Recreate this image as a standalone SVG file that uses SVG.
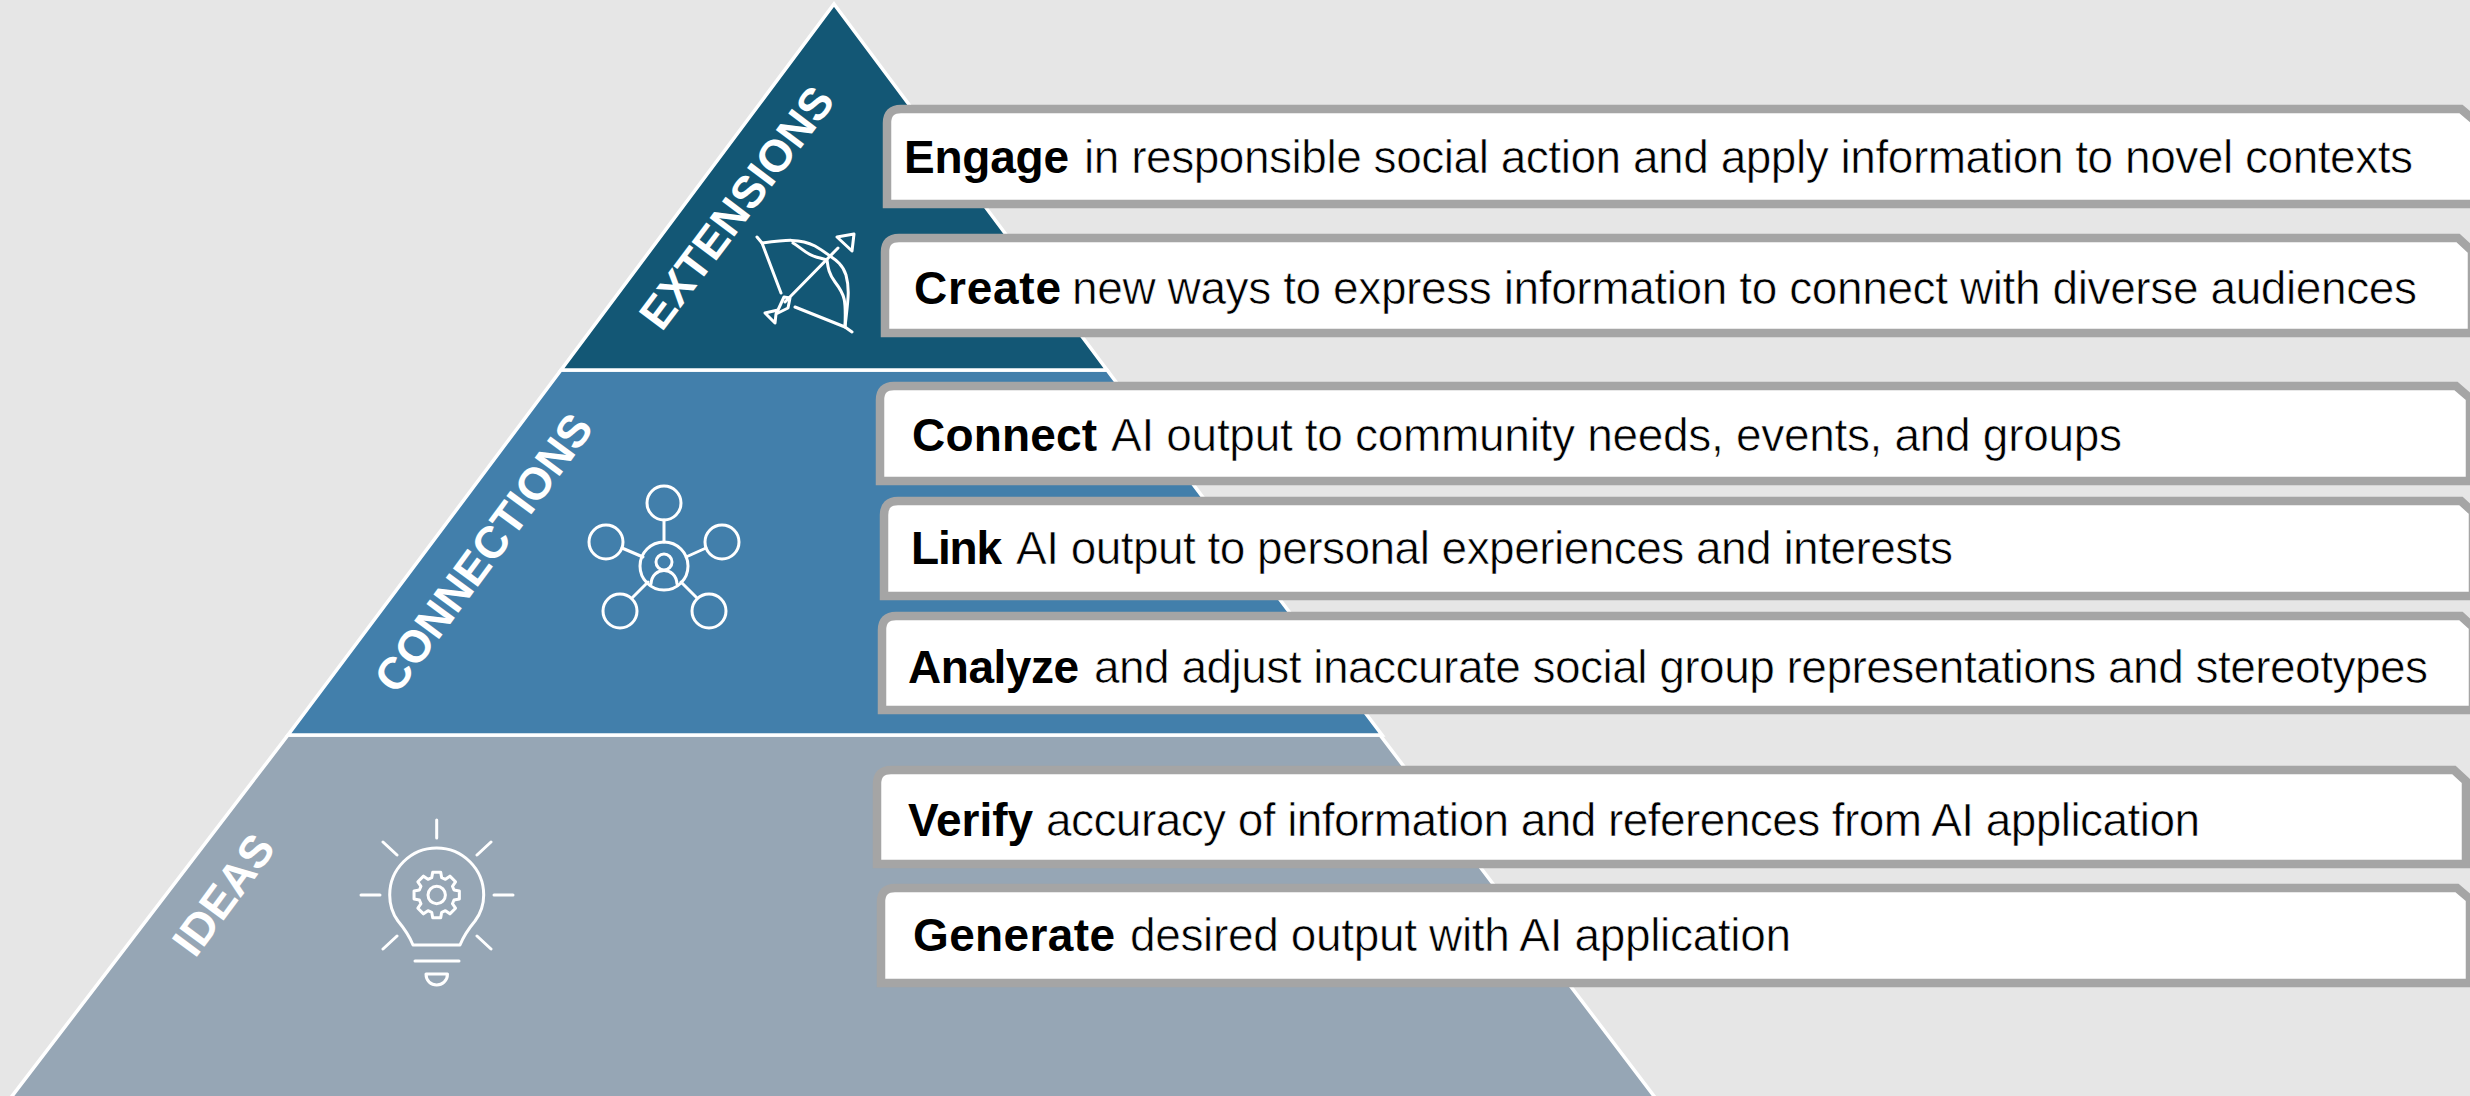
<svg xmlns="http://www.w3.org/2000/svg" width="2470" height="1096" viewBox="0 0 2470 1096">
<style>
.tier{stroke:#fff;stroke-width:3.5;stroke-linejoin:miter}
.box{fill:#fff;stroke:#a5a5a5;stroke-width:8.5;stroke-linejoin:miter}
.t{font-family:"Liberation Sans",Arial,Helvetica,sans-serif;font-size:46px;fill:#000}
.b{font-weight:700}
.r{stroke:#fff;stroke-width:.6}
.lab{font-family:"Liberation Sans",Arial,Helvetica,sans-serif;font-size:45px;font-weight:700;fill:#fff;text-anchor:middle}
.ic{fill:none;stroke:#fff;stroke-width:3;stroke-linecap:round;stroke-linejoin:round}
</style>
<rect width="2470" height="1096" fill="#e6e6e6"/>
<g id="tier-ideas"><polygon class="tier" fill="#96a6b5" points="288,735 1380,735 1660,1104 6,1104"/>
<text class="lab" transform="translate(236,904) rotate(-53.500)">IDEAS</text>
<g id="icon-bulb" class="ic">
<path d="M413 945 C409 935 403 927 398 921 C392 913 389.700 905 389.700 895 A47 47 0 0 1 483.700 895 C483.700 905 481 913 475 921 C470 927 464 935 460 945 Z"/>
<path d="M436.700 820V838M494 895H513M361 895H380M383 842L397 855M477 855L491 842M383 949L397 936M477 936L491 949M415 961H459"/>
<path d="M426 974H447.500C447.500 981 442 985 436.700 985C431 985 426 981 426 974Z"/>
<g transform="translate(436.700,895)"><polygon points="17.300,-5 22.650,-4 22.650,4 17.300,5 15.740,8.730 18.840,13.190 13.190,18.840 8.730,15.740 5,17.300 4,22.650 -4,22.650 -5,17.300 -8.730,15.740 -13.190,18.840 -18.840,13.190 -15.740,8.730 -17.300,5 -22.650,4 -22.650,-4 -17.300,-5 -15.740,-8.730 -18.840,-13.190 -13.190,-18.840 -8.730,-15.740 -5,-17.300 -4,-22.650 4,-22.650 5,-17.300 8.730,-15.740 13.190,-18.840 18.840,-13.190 15.740,-8.730"/><circle r="8.700"/></g>
</g></g>
<g id="tier-connections"><polygon class="tier" fill="#427fab" points="561,370 1107,370 1382,735 288,735"/>
<text class="lab" transform="translate(496,562) rotate(-53.500)">CONNECTIONS</text>
<g id="icon-network" class="ic">
<circle cx="664" cy="566" r="24"/><circle cx="664" cy="503" r="17"/><circle cx="606" cy="542" r="17"/><circle cx="722" cy="542" r="17"/><circle cx="620" cy="611" r="17"/><circle cx="709" cy="611" r="17"/>
<circle cx="664" cy="562" r="8"/><path d="M651 584C652 566 676 566 677 584"/>
<path d="M664 520V542M622 548L643 557M706 548L686 557M632 598L648 582M697 598L681 582"/>
</g></g>
<g id="tier-extensions"><polygon class="tier" fill="#135775" points="834,4 1107,370 561,370"/>
<text class="lab" transform="translate(749,217) rotate(-53)">EXTENSIONS</text>
<g id="icon-bow" class="ic" stroke-width="2.500">
<path d="M757 237L762 243C785 240 800 238 815 246C822 250 826 253 830 256C836 260 843 265 846 275C850 290 848 300 845 327L852 332"/>
<path d="M793 243C802 248 807 256 820 258L827 260C828 268 829 274 835 282C845 295 846 300 845 326"/>
<path d="M762 243L781 293M795 307L845 327"/>
<path d="M785 302L838 248M837 237L854 234L852 251Z"/>
<path d="M765 313L778 310L784 297L790 298L788 308L776 314L775 323L765 313M778 310L776 314"/>
</g></g>
<g id="row-engage"><path class="box" d="M887 204V123Q887 109 901 109H2461L2482 127V204Z"/>
<text class="t" y="173"><tspan class="b" x="904" textLength="165">Engage</tspan><tspan class="r" x="1084" textLength="1329">in responsible social action and apply information to novel contexts</tspan></text></g>
<g id="row-create"><path class="box" d="M885 333V252Q885 238 899 238H2458L2472 251V333Z"/>
<text class="t" y="304"><tspan class="b" x="914" textLength="147">Create</tspan><tspan class="r" x="1072" textLength="1345">new ways to express information to connect with diverse audiences</tspan></text></g>
<g id="row-connect"><path class="box" d="M880 481V400Q880 386 894 386H2456L2470 398V481Z"/>
<text class="t" y="451"><tspan class="b" x="912" textLength="185">Connect</tspan><tspan class="r" x="1111" textLength="1011">AI output to community needs, events, and groups</tspan></text></g>
<g id="row-link"><path class="box" d="M884 596V515Q884 501 898 501H2461L2473 512V596Z"/>
<text class="t" y="564"><tspan class="b" x="911" textLength="91">Link</tspan><tspan class="r" x="1016" textLength="937">AI output to personal experiences and interests</tspan></text></g>
<g id="row-analyze"><path class="box" d="M882 710V630Q882 616 896 616H2461L2473 627V710Z"/>
<text class="t" y="683"><tspan class="b" x="908" textLength="171">Analyze</tspan><tspan class="r" x="1094" textLength="1334">and adjust inaccurate social group representations and stereotypes</tspan></text></g>
<g id="row-verify"><path class="box" d="M877 864V784Q877 770 891 770H2454L2466 781V864Z"/>
<text class="t" y="836"><tspan class="b" x="908" textLength="125">Verify</tspan><tspan class="r" x="1046" textLength="1154">accuracy of information and references from AI application</tspan></text></g>
<g id="row-generate"><path class="box" d="M881 983V902Q881 888 895 888H2457L2470 899V983Z"/>
<text class="t" y="951"><tspan class="b" x="913" textLength="202">Generate</tspan><tspan class="r" x="1130" textLength="661">desired output with AI application</tspan></text></g>
</svg>
